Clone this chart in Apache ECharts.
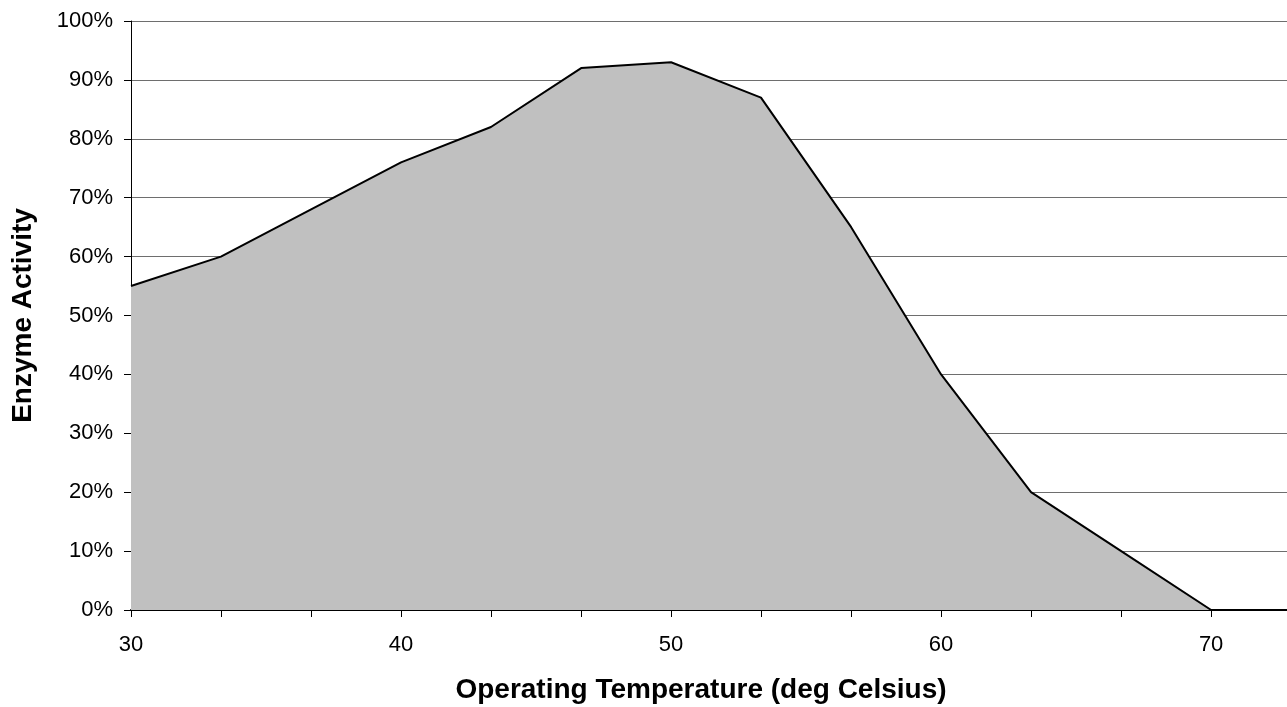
<!DOCTYPE html>
<head>
    <meta charset="utf-8">
    <script type="text/javascript" src="https://cdn.jsdelivr.net/npm/echarts@6/dist/echarts.min.js"></script>
</head>
<body style="margin:0">
	<div id="main" style="width:1287px; height:707px"></div>
	<script type="text/javascript">
		// temperature steps (deg C) and enzyme activity (%)
		var temps = [30, 33.33, 36.67, 40, 43.33, 46.67, 50, 53.33, 56.67, 60, 63.33, 66.67, 70];
		var activity = [55, 60, 68, 76, 82, 92, 93, 87, 65, 40, 20, 10, 0];
		var xLabels = [30, 40, 50, 60, 70];

		var data = [];
		for (var i = 0; i < temps.length; i++) {
			data.push([temps[i], activity[i]]);
		}

		var myChart = echarts.init(document.getElementById('main'));
		var font = 'Liberation Sans';
		var option = {
			animation: false,
			textStyle: { fontFamily: font },
			grid: { left: 131, top: 21, right: 0, bottom: 97, containLabel: false, outerBoundsMode: 'none' },
			xAxis: {
				type: 'value',
				min: 30,
				max: 72.81,
				interval: 10 / 3,
				name: 'Operating Temperature (deg Celsius)',
				nameLocation: 'middle',
				nameGap: 66,
				nameMoveOverlap: false,
				nameTextStyle: { fontFamily: font, fontSize: 28, fontWeight: 'bold', color: '#000', padding: [0, 16, 0, 0] },
				axisLine: { onZero: false, lineStyle: { color: '#000', width: 2 } },
				axisTick: { show: true, length: 7, lineStyle: { color: '#000', width: 1 } },
				axisLabel: {
					fontFamily: font, fontSize: 22, color: '#000', margin: 24,
					showMaxLabel: false,
					formatter: function (v) {
						var r = Math.round(v);
						if (Math.abs(v - r) < 0.01 && xLabels.indexOf(r) != -1) return r;
						return '';
					}
				},
				splitLine: { show: false }
			},
			yAxis: {
				type: 'value',
				min: 0,
				max: 100,
				interval: 10,
				name: 'Enzyme Activity',
				nameLocation: 'middle',
				nameGap: 94,
				nameMoveOverlap: false,
				nameTextStyle: { fontFamily: font, fontSize: 28, fontWeight: 'bold', color: '#000' },
				axisLine: { show: true, lineStyle: { color: '#000', width: 1 } },
				axisTick: { show: true, length: 7, lineStyle: { color: '#000' } },
				axisLabel: { fontFamily: font, fontSize: 22, color: '#000', margin: 18, formatter: '{value}%' },
				splitLine: { show: true, lineStyle: { color: '#6e6e6e', width: 1 } }
			},
			series: [
				{
					type: 'line',
					data: data,
					symbol: 'none',
					lineStyle: { color: '#000', width: 2 },
					areaStyle: { color: '#c0c0c0', opacity: 1 }
				}
			]
		};
		myChart.setOption(option);
	</script>
</body>
